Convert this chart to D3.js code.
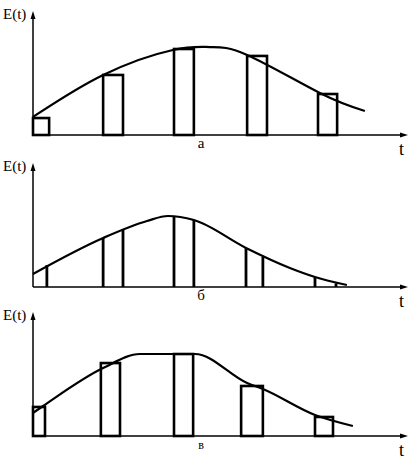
<!DOCTYPE html>
<html><head><meta charset="utf-8">
<script src="https://cdn.jsdelivr.net/npm/d3@7"></script>
<style>body{margin:0;background:#fff}svg{display:block}text{font-family:"Liberation Serif","DejaVu Serif",serif}</style>
</head><body>
<script>
// Panel labels
const panelLabels = ["а", "б", "в"];
const yAxisLabel = "E(t)";
const xAxisLabel = "t";

// Curves: [t, E]
const curveA = [[0,14.8],[1.87,49.2],[3.73,69.7],[4.72,72.1],[5.71,65.6],[7.65,34.4],[8.85,19.7]];
const curveB = [[0,10.7],[1.87,40.2],[3.04,54.1],[3.6,58.2],[4.29,54.9],[5.68,32],[6.85,15.6],[7.52,8.2],[8.37,1.6]];
const curveC = [[0,18.9],[0.27,24.6],[1.87,55.7],[2.85,67.2],[4.32,67.2],[5.71,43.4],[6.13,38.5],[7.52,17.2],[8.53,8.2]];

// Bars (а, в): [tStart, tEnd, E]
const barsA = [[0,0.43,13.9],[1.87,2.4,49.2],[3.76,4.29,70.5],[5.71,6.24,64.8],[7.6,8.11,33.6]];
const barsC = [[0,0.32,23.8],[1.81,2.32,59.8],[3.76,4.27,67.2],[5.55,6.13,41],[7.52,8.0,15.6]];
// Ordinates (б): [t, E]
const linesB = [[0.37,18],[1.87,40.2],[2.4,47.5],[3.76,57.6],[4.29,54.9],[5.68,32],[6.13,24.6],[7.52,8.2],[8.08,3]];

const W = 417, H = 463;
const svg = d3.select("body").append("svg").attr("width", W).attr("height", H);

const x = d3.scaleLinear().domain([0, 10]).range([33, 408]);
const baselines = [135, 287, 436];

const panels = [
  {curve: curveA, bars: barsA, lines: null, interp: d3.curveNatural},
  {curve: curveB, bars: null, lines: linesB, interp: d3.curveMonotoneX},
  {curve: curveC, bars: barsC, lines: null, interp: d3.curveMonotoneX}
];

panels.forEach((p, i) => {
  const base = baselines[i];
  const y = d3.scaleLinear().domain([0, 100]).range([base, base - 122]);
  const g = svg.append("g");

  if (p.bars) {
    g.selectAll("rect.bar").data(p.bars).join("rect")
      .attr("x", d => x(d[0])).attr("y", d => y(d[2]))
      .attr("width", d => x(d[1]) - x(d[0]))
      .attr("height", d => y(0) - y(d[2]))
      .attr("fill", "none").attr("stroke", "#000").attr("stroke-width", 2.6);
  }
  if (p.lines) {
    g.selectAll("line.ord").data(p.lines).join("line")
      .attr("x1", d => x(d[0])).attr("x2", d => x(d[0]))
      .attr("y1", y(0)).attr("y2", d => y(d[1]))
      .attr("stroke", "#000").attr("stroke-width", 2.8);
  }

  g.append("path").datum(p.curve)
    .attr("d", d3.line().x(d => x(d[0])).y(d => y(d[1])).curve(p.interp))
    .attr("fill", "none").attr("stroke", "#000").attr("stroke-width", 2.2);

  const x0 = x(0), top = base - 124, right = 408;
  g.append("line").attr("x1", x0).attr("x2", x0).attr("y1", base).attr("y2", top + 6)
    .attr("stroke", "#000").attr("stroke-width", 1.5);
  g.append("path").attr("d", `M${x0},${top} L${x0-2.5},${top+8} L${x0+2.5},${top+8} Z`).attr("fill", "#000");
  g.append("line").attr("x1", x0).attr("x2", right - 6).attr("y1", base).attr("y2", base)
    .attr("stroke", "#000").attr("stroke-width", 1.5);
  g.append("path").attr("d", `M${right},${base} L${right-8},${base-2.5} L${right-8},${base+2.5} Z`).attr("fill", "#000");

  g.append("text").attr("x", 3).attr("y", base - 116).text(yAxisLabel).attr("font-size", 15);
  g.append("text").attr("x", 399).attr("y", base + 20).text(xAxisLabel).attr("font-size", 18);
  g.append("text").attr("x", 201).attr("y", base + 13).attr("text-anchor", "middle").text(panelLabels[i])
    .attr("font-size", i === 2 ? 12 : 15);
});
</script>
</body></html>
